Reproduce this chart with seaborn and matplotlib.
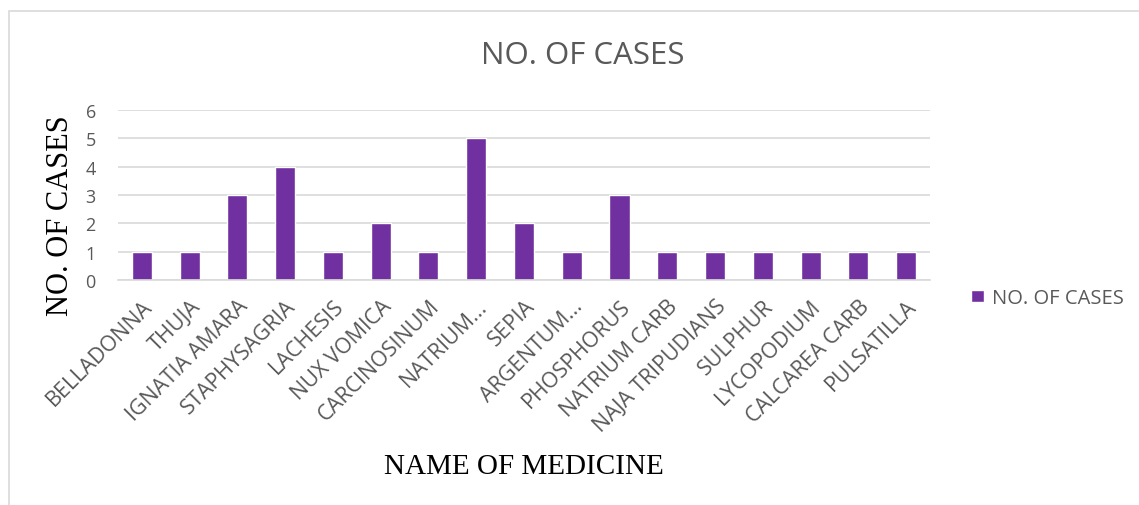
import matplotlib.pyplot as plt
import seaborn as sns
from matplotlib.patches import Rectangle

""" Bar chart of cases per medicine """

medicines = ["BELLADONNA", "THUJA", "IGNATIA AMARA", "STAPHYSAGRIA", "LACHESIS",
             "NUX VOMICA", "CARCINOSINUM", "NATRIUM...", "SEPIA", "ARGENTUM...",
             "PHOSPHORUS", "NATRIUM CARB", "NAJA TRIPUDIANS", "SULPHUR",
             "LYCOPODIUM", "CALCAREA CARB", "PULSATILLA"]
cases = [1, 1, 3, 4, 1, 2, 1, 5, 2, 1, 3, 1, 1, 1, 1, 1, 1]
series_name = "NO. OF CASES"

bar_colour = '#7030A0'
text_grey = '#595959'
grid_grey = '#D9D9D9'

sns.set_style('white')
plt.rcParams['font.family'] = ['Open Sans', 'DejaVu Sans']

fig = plt.figure(figsize=(11.39, 5.06), dpi=100)
ax = fig.add_axes([0.1036, 0.4447, 0.7129, 0.3359])

sns.barplot(x=medicines, y=cases, color=bar_colour, width=0.42,
            saturation=1, label=series_name, ax=ax)

# y axis with light grid like the office chart
ax.set_ylim(0, 6)
ax.set_yticks(range(0, 7))
ax.set_xlim(-0.5, len(medicines) - 0.5)
ax.set_axisbelow(True)
ax.yaxis.grid(True, color=grid_grey, linewidth=1.2)
sns.despine(ax=ax, left=True, top=True, right=True)
ax.spines['bottom'].set_color(grid_grey)
ax.spines['bottom'].set_linewidth(1.2)
ax.tick_params(axis='both', length=0, colors=text_grey)
ax.tick_params(axis='y', pad=16, labelsize=13)
ax.tick_params(axis='x', pad=11, labelsize=15.5)
ax.set_xticks(range(len(medicines)))
ax.set_xticklabels(medicines, rotation=45, ha='right', rotation_mode='anchor')

# serif axis titles
ax.set_xlabel("NAME OF MEDICINE", family='Liberation Serif', fontsize=21,
              color='black')
ax.set_ylabel("NO. OF CASES", family='Liberation Serif', fontsize=22,
              color='black')
ax.xaxis.set_label_coords(524 / 1139, 1 - 467 / 506, transform=fig.transFigure)
ax.xaxis.label.set_verticalalignment('center')
ax.yaxis.set_label_coords(60 / 1139, 1 - 216 / 506, transform=fig.transFigure)
ax.yaxis.label.set_verticalalignment('center')

fig.text(583 / 1139, 1 - 56 / 506, "NO. OF CASES", ha='center', va='center',
         fontsize=22.5, color=text_grey)

ax.legend(loc='center left', bbox_to_anchor=(0.837, 1 - 299 / 506),
          bbox_transform=fig.transFigure, frameon=False, fontsize=14.5,
          labelcolor=text_grey, handlelength=0.6, handleheight=0.6,
          handletextpad=0.4)

# chart border
fig.patches.append(Rectangle((9 / 1139, -0.05), 1.1, 1 - 12 / 506 + 0.05,
                             transform=fig.transFigure, fill=False,
                             edgecolor=grid_grey, linewidth=1.2))

plt.savefig('out.png', dpi=100)
